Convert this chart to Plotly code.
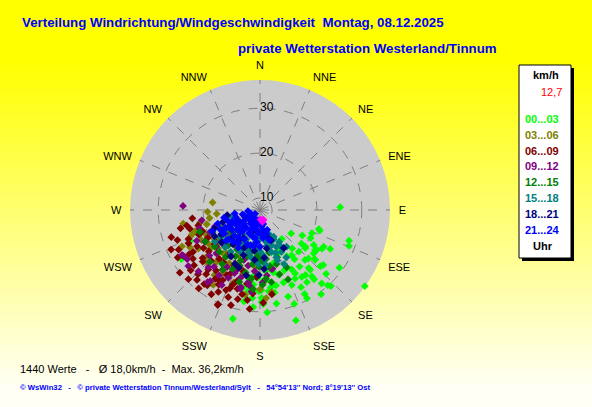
import plotly.graph_objects as go

W, H = 592, 407


def px(x):
    return x / W


def py(y):
    return 1 - y / H


# wind directions (degrees) and 16 compass labels
compass_deg = [0, 22.5, 45, 67.5, 90, 112.5, 135, 157.5, 180, 202.5, 225, 247.5, 270, 292.5, 315, 337.5]
compass_txt = ['N', 'NNE', 'NE', 'ENE', 'E', 'ESE', 'SE', 'SSE', 'S', 'SSW', 'SW', 'WSW', 'W', 'WNW', 'NW', 'NNW']
speed_ticks = [10, 20, 30]

hour_labels = ['00...03', '03...06', '06...09', '09...12', '12...15', '15...18', '18...21', '21...24']
hour_colors = ['#00FF00', '#808000', '#800000', '#800080', '#008000', '#008080', '#000080', '#0000FF']

# readings per 3-hour block: direction (deg) / speed (km/h)
dir_00_03 = [88, 127, 143, 109, 121, 114, 109, 112, 119, 122, 126, 129, 137, 150, 145, 138, 132, 131, 126, 145,
             152, 158, 140, 148, 153, 162, 147, 142, 134, 137, 144, 152, 160, 126, 164, 172, 179, 162, 152, 162,
             194, 238, 246, 179, 178, 170, 175, 168, 185, 188, 108, 129, 119, 123, 130, 120, 129, 125, 145, 135,
             132, 133, 140, 151, 145, 142, 140, 138, 157, 152, 177, 181, 166, 160, 171, 156, 184, 190, 176, 140,
             192, 179, 174, 186, 191, 185, 175, 168, 182, 170]
kmh_00_03 = [25.2, 16.0, 15.4, 21.4, 18.3, 20.0, 28.3, 28.7, 25.2, 23.6, 22.5, 20.3, 20.0, 19.2, 20.7, 22.3, 23.6, 26.0, 29.2, 22.7,
             22.3, 21.8, 24.7, 24.9, 24.5, 24.3, 26.5, 26.9, 27.8, 30.5, 30.5, 29.6, 29.6, 36.2, 22.3, 24.7, 27.8, 33.2, 28.5, 27.6,
             32.3, 28.0, 24.3, 25.2, 28.3, 26.0, 23.0, 21.5, 27.0, 25.5, 21.1, 19.2, 20.2, 21.6, 20.5, 23.7, 22.7, 22.8, 19.6, 22.6,
             23.9, 25.7, 24.2, 23.5, 25.0, 26.1, 28.7, 29.9, 25.5, 26.8, 23.0, 25.4, 19.5, 18.0, 20.5, 17.5, 29.0, 28.0, 30.2, 18.5,
             24.9, 26.9, 25.5, 22.2, 22.4, 24.0, 21.0, 24.5, 22.5, 28.5]

dir_03_06 = [279, 261, 255, 245, 247, 260, 243, 240, 229, 226, 172, 250, 265, 236, 232, 220, 215, 210, 200, 195,
             205, 222, 230, 238, 190, 180, 176, 185, 212, 252, 258, 268, 242, 228, 218,
             225, 215, 205, 235, 245, 250, 220, 198, 210, 232]
kmh_03_06 = [18.0, 18.7, 19.6, 26.5, 20.7, 24.7, 22.0, 19.5, 22.9, 24.0, 25.8, 17.5, 17.0, 21.0, 19.0, 22.5, 25.0, 21.0, 24.5, 22.0,
             18.5, 17.5, 16.0, 23.5, 26.5, 25.0, 27.0, 20.0, 27.0, 22.5, 21.0, 19.0, 25.0, 20.0, 19.5,
             15.5, 17.0, 20.5, 18.5, 16.5, 23.5, 20.0, 21.0, 23.5, 21.5]

dir_06_09 = [238, 229, 224, 222, 217, 209, 203, 213, 204, 207, 221, 263, 250, 188, 215, 196, 192, 207, 245, 234,
             194, 204, 183, 172, 232, 240, 226, 255, 248, 236, 228, 220, 212, 200, 198, 215, 225, 242, 250, 257,
             230, 218, 210, 201, 190, 186, 205, 233, 244, 253, 258, 238, 224, 216, 197, 208, 231, 246, 178, 185,
             235, 225, 215, 205, 195, 240, 230, 220, 210, 200, 248, 256]
kmh_06_09 = [24.9, 27.8, 27.2, 28.3, 28.0, 26.3, 26.7, 25.6, 30.5, 23.6, 24.9, 22.5, 26.9, 27.6, 27.8, 25.6, 26.5, 27.8, 24.9, 25.8,
             27.8, 30.3, 22.3, 26.3, 30.0, 28.5, 29.5, 23.5, 22.0, 22.5, 24.5, 26.0, 23.0, 28.0, 24.0, 21.5, 21.0, 20.5, 21.0, 25.5,
             26.5, 29.5, 29.0, 26.0, 24.0, 29.5, 21.0, 20.0, 27.5, 28.0, 24.0, 26.0, 23.0, 24.0, 29.5, 25.0, 22.0, 29.0, 28.0, 26.0,
             19.5, 18.5, 19.0, 23.0, 21.5, 23.5, 24.0, 21.5, 25.5, 25.0, 24.5, 21.5]

dir_09_12 = [273, 240, 216, 225, 232, 194, 189, 169, 239, 215, 207, 194, 188, 186, 219, 201, 236, 253, 222, 168,
             178, 174, 230, 210, 244, 226, 214, 198, 250, 238, 205, 185, 260, 228, 196,
             220, 240, 212, 202, 232, 246, 192, 225]
kmh_09_12 = [24.5, 27.4, 27.2, 26.7, 27.6, 25.0, 23.6, 20.7, 27.2, 26.7, 26.1, 25.4, 24.3, 25.6, 23.6, 21.6, 26.9, 21.4, 24.5, 20.7,
             23.5, 22.0, 20.0, 22.0, 23.0, 18.5, 19.5, 19.0, 18.0, 17.0, 24.0, 21.0, 20.5, 22.5, 23.0,
             17.0, 21.5, 24.5, 22.5, 16.5, 19.5, 20.0, 21.0]

dir_12_15 = [173, 188, 205, 224, 231, 181, 175, 178, 187, 163, 171, 176, 201, 216, 193, 223, 224, 240, 219, 192,
             155, 163, 250, 210, 198, 235, 228, 183, 168, 160, 212, 196, 185, 245, 238, 205, 158,
             215, 230, 200, 190, 180, 170, 208, 222, 195, 185]
kmh_12_15 = [18.3, 19.5, 21.8, 23.4, 20.3, 20.0, 22.7, 24.0, 22.7, 22.3, 23.6, 19.0, 19.4, 20.3, 21.6, 16.9, 20.3, 21.4, 14.9, 16.9,
             21.4, 19.9, 21.6, 17.5, 16.5, 18.0, 15.5, 17.5, 17.0, 18.5, 23.0, 24.0, 25.0, 19.0, 15.5, 15.0, 24.0,
             22.0, 18.5, 20.5, 22.5, 18.5, 20.0, 19.0, 18.0, 18.0, 16.0]

dir_15_18 = [169, 186, 176, 165, 175, 174, 182, 156, 153, 151, 153, 149, 159, 144, 161, 201, 205, 229, 223, 191,
             236, 215, 235, 182, 162, 161, 156, 257, 248, 242, 232, 215, 196, 172, 210, 245, 190, 165, 150, 220,
             205, 195, 180, 170, 225, 240, 230, 185, 160, 155]
kmh_15_18 = [14.6, 16.3, 17.4, 17.0, 18.3, 19.6, 19.4, 16.3, 17.8, 19.4, 14.0, 15.6, 13.2, 17.4, 18.5, 16.3, 17.6, 16.7, 18.7, 18.0,
             18.0, 18.7, 19.6, 14.0, 15.6, 19.2, 20.5, 13.8, 12.9, 14.5, 13.0, 14.0, 13.0, 12.0, 16.0, 17.0, 15.0, 12.5, 16.8, 15.5,
             14.5, 17.0, 16.5, 15.5, 17.0, 16.0, 15.0, 13.0, 17.5, 14.5]

dir_18_21 = [148, 261, 248, 192, 181, 225, 210, 200, 235, 240, 218, 195, 186, 205, 230, 252, 222, 170, 176, 212,
             243, 198, 160, 188, 203, 215, 228, 175, 165, 238, 200]
kmh_18_21 = [17.3, 14.7, 18.3, 22.2, 21.8, 16.0, 14.5, 18.0, 15.0, 19.0, 17.0, 15.5, 18.5, 20.5, 18.5, 16.0, 12.5, 16.0, 20.5, 19.5,
             13.0, 12.0, 14.5, 16.5, 16.5, 15.5, 14.0, 18.0, 13.5, 17.5, 21.0]

dir_21_24 = [233, 236, 237, 240, 241, 243, 243, 244, 246, 186, 208, 217, 222, 225, 227, 167, 189, 201, 208, 213,
             160, 174, 186, 195, 163, 265, 256, 253, 252, 252, 177, 190, 235, 237, 233, 229, 212, 200, 225, 248,
             230, 219, 204, 196, 180, 247, 250, 228, 218, 210, 180, 170, 258, 262,
             215, 205, 195, 185, 225, 242, 238, 220, 200, 190, 175, 165]
kmh_21_24 = [8.7, 10.0, 11.4, 12.5, 13.6, 14.9, 16.0, 17.2, 19.0, 9.6, 10.9, 12.3, 13.8, 15.4, 16.9, 10.5, 11.8, 13.2, 14.7, 16.1,
             12.0, 13.6, 14.5, 15.4, 14.3, 10.0, 11.3, 12.9, 14.9, 17.2, 12.7, 13.7, 14.9, 16.9, 13.4, 12.0, 9.5, 10.0, 10.5, 9.5,
             14.0, 13.5, 12.0, 11.0, 10.5, 14.0, 11.0, 17.5, 15.0, 17.0, 15.5, 12.0, 15.5, 13.0,
             11.0, 13.0, 13.5, 12.5, 13.0, 16.0, 10.5, 16.5, 15.5, 15.5, 11.0, 12.8]

# latest readings (pink)
dir_now = [176, 168, 160]
kmh_now = [9.4, 10.0, 9.6]

all_dirs = [dir_00_03, dir_03_06, dir_06_09, dir_09_12, dir_12_15, dir_15_18, dir_18_21, dir_21_24]
all_kmh = [kmh_00_03, kmh_03_06, kmh_06_09, kmh_09_12, kmh_12_15, kmh_15_18, kmh_18_21, kmh_21_24]

fig = go.Figure()
for d, v, c, name in zip(all_dirs, all_kmh, hour_colors, hour_labels):
    fig.add_trace(go.Scatterpolar(theta=d, r=v, mode='markers', name=name,
                                  marker=dict(symbol='diamond', size=6, color=c, line=dict(width=0))))
fig.add_trace(go.Scatterpolar(theta=dir_now, r=kmh_now, mode='markers', name='aktuell',
                              marker=dict(symbol='diamond', size=6, color='#FF00FF', line=dict(width=0))))

# speed labels sitting right of the north spoke
fig.add_trace(go.Scatterpolar(theta=[0] * len(speed_ticks), r=speed_ticks, mode='text',
                              text=[str(s) for s in speed_ticks], textposition='middle right',
                              textfont=dict(size=12, color='black'), hoverinfo='skip'))

# yellow -> pale yellow background
shapes = []
for i in range(0, H, 4):
    b = int(min(245, max(0, (i - 60) * 0.75)))
    shapes.append(dict(type='rect', xref='paper', yref='paper', x0=0, x1=1, y0=py(i + 4), y1=py(i),
                       fillcolor=f'rgb(255,255,{b})', line=dict(width=0), layer='below'))

# hour legend box with shadow
shapes.append(dict(type='rect', xref='paper', yref='paper', x0=px(522), x1=px(574), y0=py(261), y1=py(68),
                   fillcolor='black', line=dict(width=0)))
shapes.append(dict(type='rect', xref='paper', yref='paper', x0=px(519), x1=px(571), y0=py(258), y1=py(65),
                   fillcolor='white', line=dict(color='black', width=1)))


def label(x, y, text, size, color, xanchor='center'):
    return dict(x=px(x), y=py(y), xanchor=xanchor, yanchor='middle', showarrow=False,
                text=text, font=dict(size=size, color=color))


ann = [
    label(20, 23, '<b>Verteilung Windrichtung/Windgeschwindigkeit  Montag, 08.12.2025</b>', 13.3, '#0000FF', 'left'),
    label(236, 49, '<b>private Wetterstation Westerland/Tinnum</b>', 13.3, '#0000FF', 'left'),
    label(546, 75, '<b>km/h</b>', 11, 'black'),
    label(551, 92, '12,7', 11, '#FF0000'),
]
for k, (lab, col) in enumerate(zip(hour_labels, hour_colors)):
    ann.append(label(542, 119 + k * 15.8, f'<b>{lab}</b>', 11, col))
ann.append(label(543, 246, '<b>Uhr</b>', 11, 'black'))
ann.append(label(18, 369, '1440 Werte   -   Ø 18,0km/h  -  Max. 36,2km/h', 11, 'black', 'left'))
ann.append(label(18, 387, "<b>© WsWin32   -   © private Wetterstation Tinnum/Westerland/Sylt   -   "
                          "54°54'13'' Nord; 8°19'13'' Ost</b>", 7.7, '#0000FF', 'left'))

fig.update_layout(
    width=W, height=H,
    margin=dict(l=0, r=0, t=0, b=0),
    paper_bgcolor='#FFFF00',
    font=dict(family='Liberation Sans, Arial, sans-serif', color='black'),
    showlegend=False,
    shapes=shapes,
    annotations=ann,
    polar=dict(
        domain=dict(x=[px(130), px(390)], y=[py(340), py(80)]),
        bgcolor='#CBCBCB',
        angularaxis=dict(direction='clockwise', rotation=90, thetaunit='degrees',
                         tickmode='array', tickvals=compass_deg, ticktext=compass_txt,
                         ticks='outside', ticklen=6, tickcolor='rgba(0,0,0,0)',
                         tickfont=dict(size=11, color='black'),
                         showline=False, gridcolor='#7F7F7F', griddash='dash', gridwidth=1),
        radialaxis=dict(range=[7.3, 36.3], tickmode='array', tickvals=speed_ticks,
                        angle=90, showline=False, showticklabels=False, ticks='',
                        gridcolor='#7F7F7F', griddash='dash', gridwidth=1),
    ),
)

fig.write_html('out.html', config={'displayModeBar': False},
               post_script="document.body.style.margin='0px';")
